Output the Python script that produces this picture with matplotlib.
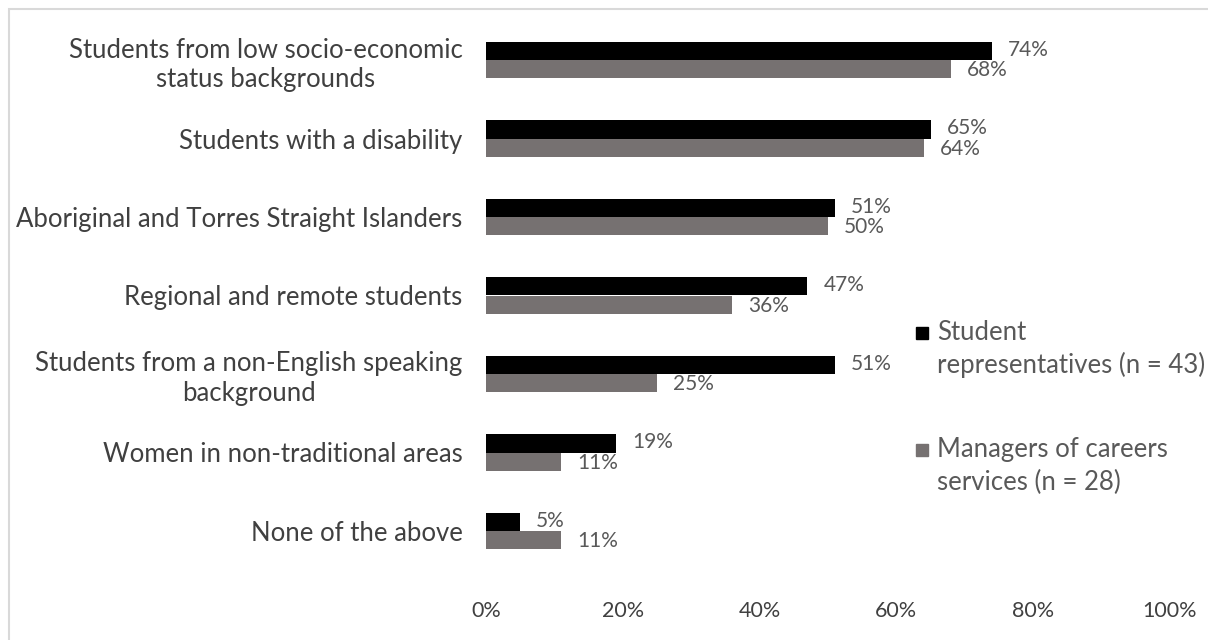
import matplotlib
matplotlib.use("Agg")
import matplotlib.pyplot as plt
from matplotlib.patches import Rectangle
import numpy as np

categories = [
    "Students from low socio-economic\nstatus backgrounds",
    "Students with a disability",
    "Aboriginal and Torres Straight Islanders",
    "Regional and remote students",
    "Students from a non-English speaking\nbackground",
    "Women in non-traditional areas",
    "None of the above",
]
student_reps = [74, 65, 51, 47, 51, 19, 5]
managers = [68, 64, 50, 36, 25, 11, 11]
series_names = ["Student\nrepresentatives (n = 43)", "Managers of careers\nservices (n = 28)"]
series_colors = ["#000000", "#767171"]
xticks = [0, 20, 40, 60, 80, 100]

plt.rcParams['font.family'] = ['Lato', 'DejaVu Sans']
W, H = 1208, 640
fig = plt.figure(figsize=(W / 100, H / 100), dpi=100)

# light frame
fig.add_artist(Rectangle((8.5 / W, -0.5), 2, 1.5 - 8.5 / H, transform=fig.transFigure,
                         fill=False, edgecolor="#d9d9d9", linewidth=1.5))

ax_left, ax_right = 486, 1170
ax_top, ax_bot = 20.75, 570.25
ax = fig.add_axes([ax_left / W, 1 - ax_bot / H, (ax_right - ax_left) / W, (ax_bot - ax_top) / H])

y = np.arange(len(categories))
h = 0.23
ax.barh(y - h / 2, student_reps, height=h, color=series_colors[0], label=series_names[0])
ax.barh(y + h / 2, managers, height=h, color=series_colors[1], label=series_names[1])

cat_fs = 18.5
val_fs = 15
tick_fs = 15.5
lab_color = "#595959"
for yi, v in zip(y - h / 2, student_reps):
    ax.annotate(f"{v}%", (v, yi), xytext=(11.5, 1), textcoords="offset points",
                ha="left", va="center", fontsize=val_fs, color=lab_color)
for yi, v in zip(y + h / 2, managers):
    ax.annotate(f"{v}%", (v, yi), xytext=(11.5, -1), textcoords="offset points",
                ha="left", va="center", fontsize=val_fs, color=lab_color)

ax.set_xlim(0, 100)
ax.set_ylim(len(categories) - 0.5, -0.5)
ax.set_xticks(xticks)
ax.set_xticklabels([f"{t}%" for t in xticks], fontsize=tick_fs, color="#404040")
ax.set_yticks(y)
ax.set_yticklabels(categories, fontsize=cat_fs, color="#404040", multialignment="center",
                   linespacing=1.2)
ax.tick_params(axis="x", length=0, pad=22)
ax.tick_params(axis="y", length=0, pad=17)
for s in ax.spines.values():
    s.set_visible(False)

# legend
leg_rows = [(333, 365), (450, 482)]
for (y1, y2), name, col in zip(leg_rows, series_names, series_colors):
    fig.add_artist(Rectangle((916 / W, 1 - (y1 + 6) / H), 12 / W, 12 / H,
                             transform=fig.transFigure, color=col))
    l1, l2 = name.split("\n")
    fig.text(937 / W, 1 - y1 / H, l1, ha="left", va="center", fontsize=cat_fs, color=lab_color)
    fig.text(937 / W, 1 - y2 / H, l2, ha="left", va="center", fontsize=cat_fs, color=lab_color)

fig.savefig("out.png", dpi=100, facecolor="white")
